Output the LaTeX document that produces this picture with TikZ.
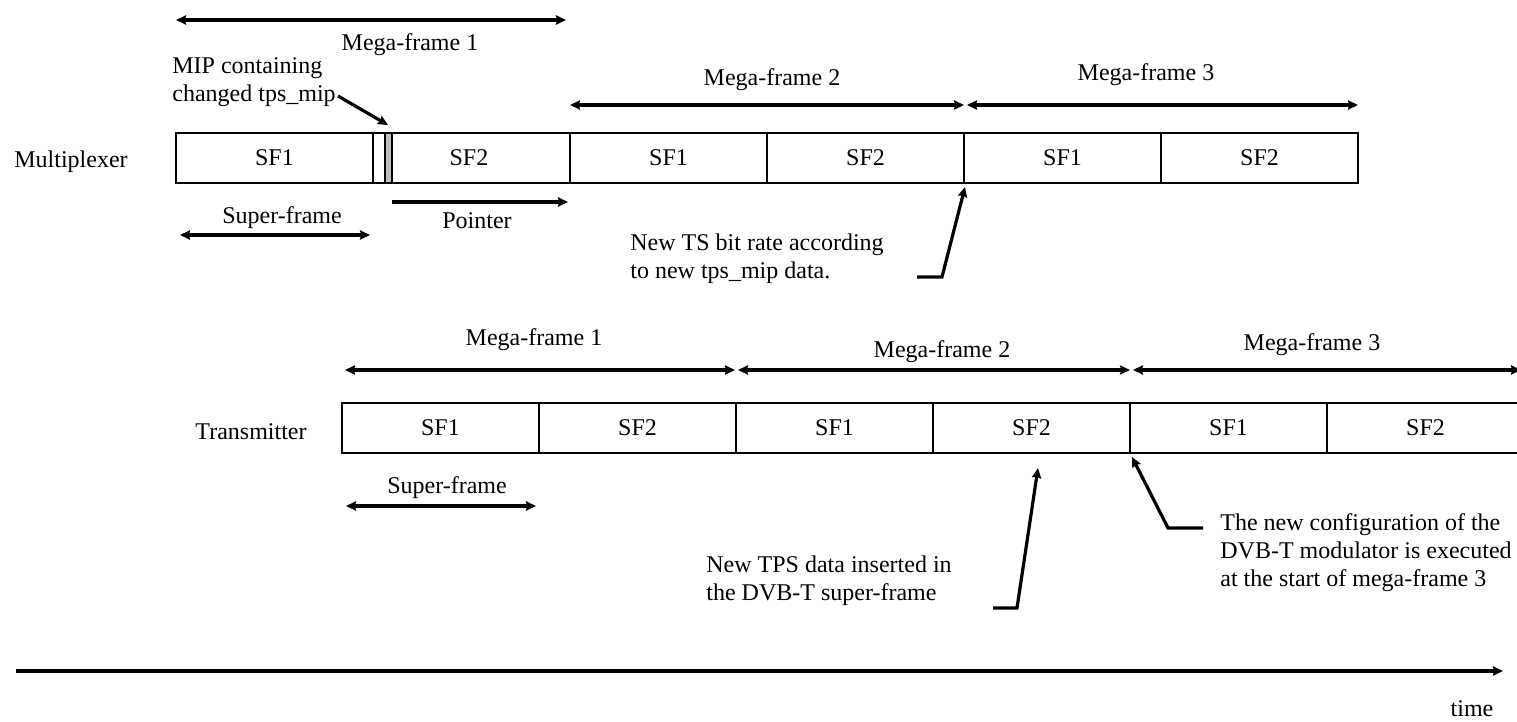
\documentclass[tikz,border=0pt]{standalone}
\usepackage{fontspec}
\setmainfont{Liberation Serif}
\usetikzlibrary{arrows.meta, positioning, calc}

\begin{document}
\begin{tikzpicture}[
  x=0.5pt, y=-0.5pt,
  >={Stealth[length=5pt, width=4.6pt, inset=0.6pt]},
  font=\fontsize{12}{14}\selectfont,
  sfbox/.style   = {draw, line width=1pt, rectangle, outer sep=0pt, inner sep=0pt,
                    minimum width=98.5pt, minimum height=25pt},
  gapbox/.style  = {sfbox, minimum width=6pt},
  mipbox/.style  = {sfbox, fill=gray!50, minimum width=3.5pt},
  mfspan/.style  = {line width=1.6pt, <->},
  ptr/.style     = {line width=1.6pt, ->},
  note/.style    = {align=left, anchor=west, inner sep=0pt},
]
  \useasboundingbox (0,0) rectangle (1517,722);

  % Multiplexer row
  \node                                          (mux)   at (71,162)  {Multiplexer};
  \node[sfbox, anchor=north west]                (mx1)   at (176,133) {SF1};
  \node[gapbox, right=0pt of mx1]                (mxgap) {};
  \node[mipbox, right=0pt of mxgap]              (mxmip) {};
  \node[sfbox, minimum width=89pt, right=0pt of mxmip] (mx2) {\hspace*{-12pt}SF2};
  \node[sfbox, right=0pt of mx2]                 (mx3)   {SF1};
  \node[sfbox, right=0pt of mx3]                 (mx4)   {SF2};
  \node[sfbox, right=0pt of mx4]                 (mx5)   {SF1};
  \node[sfbox, right=0pt of mx5]                 (mx6)   {SF2};

  % Mega-frames above the multiplexer
  \coordinate (mxa1) at (176,20);
  \coordinate (mxb1) at (566,20);
  \coordinate (mxa2) at ($(mx3.north west)+(0,-28)$);
  \coordinate (mxb2) at ($(mx4.north east)+(0,-28)$);
  \coordinate (mxa3) at ($(mx5.north west)+(3,-28)$);
  \coordinate (mxb3) at ($(mx6.north east)+(0,-28)$);
  \draw[mfspan] (mxa1) -- (mxb1);
  \draw[mfspan] (mxa2) -- (mxb2);
  \draw[mfspan] (mxa3) -- (mxb3);
  \node (mxmf1) at (410,45)  {Mega-frame 1};
  \node (mxmf2) at (772,80)  {Mega-frame 2};
  \node (mxmf3) at (1146,75) {Mega-frame 3};

  % MIP, super-frame and pointer
  \node[note] (miplbl) at (172,82) {MIP containing\\changed tps\_mip};
  \coordinate (mipfrom) at (338,96);
  \coordinate (mipto)   at (388,125);
  \draw[ptr] (mipfrom) -- (mipto);

  \coordinate (mxsfa) at (180,235);
  \coordinate (mxsfb) at (370,235);
  \draw[mfspan] (mxsfa) -- (mxsfb);
  \node (mxsf) at (282,218) {Super-frame};

  \coordinate (pta) at (392,202);
  \coordinate (ptb) at (568,202);
  \draw[ptr] (pta) -- (ptb);
  \node (ptlbl) at (477,221) {Pointer};

  % New TS bit rate
  \node[note] (tsnote) at (630,259) {New TS bit rate according\\to new tps\_mip data.};
  \coordinate (tstail) at (917,277);
  \coordinate (tsknee) at (942,277);
  \coordinate (tstip)  at (965,187);
  \draw[ptr] (tstail) -- (tsknee) -- (tstip);

  % Transmitter row
  \node                                  (txlbl) at (251,432) {Transmitter};
  \node[sfbox, anchor=north west]        (tx1)   at (342,403) {SF1};
  \node[sfbox, right=0pt of tx1]         (tx2)   {SF2};
  \node[sfbox, right=0pt of tx2]         (tx3)   {SF1};
  \node[sfbox, right=0pt of tx3]         (tx4)   {SF2};
  \node[sfbox, right=0pt of tx4]         (tx5)   {SF1};
  \node[sfbox, right=0pt of tx5]         (tx6)   {SF2};

  % Mega-frames above the transmitter
  \coordinate (txa1) at (345,370);
  \coordinate (txb1) at (735,370);
  \coordinate (txa2) at (738,370);
  \coordinate (txb2) at (1130,370);
  \coordinate (txa3) at (1133,370);
  \coordinate (txb3) at (1521,370);
  \draw[mfspan] (txa1) -- (txb1);
  \draw[mfspan] (txa2) -- (txb2);
  \draw[mfspan] (txa3) -- (txb3);
  \node (txmf1) at (534,340)  {Mega-frame 1};
  \node (txmf2) at (942,352)  {Mega-frame 2};
  \node (txmf3) at (1312,345) {Mega-frame 3};

  \coordinate (txsfa) at (346,506);
  \coordinate (txsfb) at (536,506);
  \draw[mfspan] (txsfa) -- (txsfb);
  \node (txsf) at (447,488) {Super-frame};

  % New TPS data
  \node[note] (tpsnote) at (706,581) {New TPS data inserted in\\the DVB-T super-frame};
  \coordinate (tpstail) at (993,608);
  \coordinate (tpsknee) at (1017,608);
  \coordinate (tpstip)  at (1038,468);
  \draw[ptr] (tpstail) -- (tpsknee) -- (tpstip);

  % New configuration
  \node[note] (cfgnote) at (1220,553) {The new configuration of the\\DVB-T modulator is executed\\at the start of mega-frame 3};
  \coordinate (cfgtail) at (1203,528);
  \coordinate (cfgknee) at (1168,528);
  \coordinate (cfgtip)  at (1132,457);
  \draw[ptr] (cfgtail) -- (cfgknee) -- (cfgtip);

  % Time axis
  \coordinate (ta) at (16,671);
  \coordinate (tb) at (1503,671);
  \draw[ptr] (ta) -- (tb);
  \node[anchor=base, inner sep=0pt] (timelbl) at (1472,716) {time};
\end{tikzpicture}
\end{document}
